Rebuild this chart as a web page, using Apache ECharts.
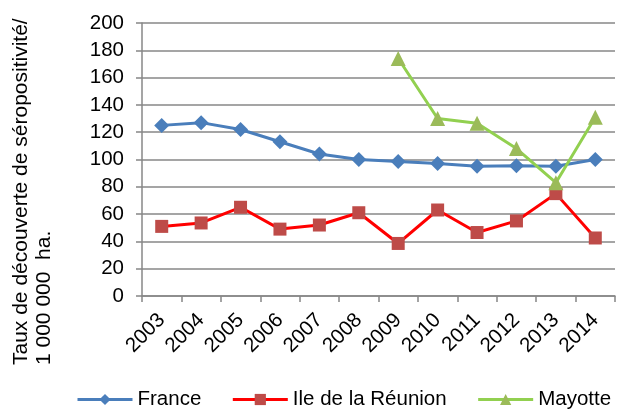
<!DOCTYPE html>
<html>
<head>
<meta charset="utf-8">
<script src="https://cdn.jsdelivr.net/npm/echarts@6/dist/echarts.min.js"></script>
<style>
  html, body { margin: 0; padding: 0; background: #fff; }
  #chart { width: 639px; height: 410px; }
</style>
</head>
<body>
<div id="chart"></div>
<script>
/* ── Data ───────────────────────────────────────────────── */
const years = ['2003','2004','2005','2006','2007','2008','2009','2010','2011','2012','2013','2014'];
const france  = [125, 127, 122, 113, 104, 100, 98.5, 97, 95, 95.5, 95, 100];
const reunion = [51, 53.5, 65, 49, 52, 61, 38.5, 63, 46.5, 55, 75, 42.5];
const mayotte = [null, null, null, null, null, null, 174, 130, 126.5, 108, 83, 131];
const yTicks  = { min: 0, max: 200, interval: 20 };

const FONT = 'Arial, "Liberation Sans", sans-serif';
const GRID_COLOR = '#878787';
const LABEL_SIZE = 20.5;

const chart = echarts.init(document.getElementById('chart'), null, { renderer: 'canvas' });

chart.setOption({
  backgroundColor: '#fff',
  animation: false,
  textStyle: { fontFamily: FONT },
  grid: { left: 142, right: 24, top: 23, bottom: 114 },
  legend: {
    left: 71,
    top: 384,
    itemWidth: 55,
    itemHeight: 14,
    itemGap: 30,
    textStyle: { fontSize: LABEL_SIZE, color: '#000', fontFamily: FONT },
    data: [
      { name: 'France', lineStyle: { width: 3 } },
      { name: 'Ile de la Réunion', lineStyle: { width: 3 } },
      { name: 'Mayotte', lineStyle: { width: 3 } }
    ]
  },
  xAxis: {
    type: 'category',
    data: years,
    boundaryGap: true,
    axisLine: { lineStyle: { color: GRID_COLOR, width: 1.5 } },
    axisTick: { show: true, length: 6, inside: false, lineStyle: { color: GRID_COLOR, width: 1.5 } },
    axisLabel: { rotate: 45, fontSize: LABEL_SIZE, color: '#000', fontFamily: FONT, margin: 21 },
    splitLine: { show: false }
  },
  yAxis: {
    type: 'value',
    min: yTicks.min,
    max: yTicks.max,
    interval: yTicks.interval,
    axisLine: { show: true, lineStyle: { color: GRID_COLOR, width: 1.5 } },
    axisTick: { show: true, length: 6, lineStyle: { color: GRID_COLOR, width: 1.5 } },
    axisLabel: { fontSize: LABEL_SIZE, color: '#000', fontFamily: FONT, margin: 18 },
    splitLine: { show: true, lineStyle: { color: GRID_COLOR, width: 1.5 } }
  },
  // rotated two-line axis title, reads bottom to top
  graphic: [{
    type: 'text',
    x: 10,
    y: 365,
    rotation: Math.PI / 2,
    style: {
      text: 'Taux de découverte de séropositivité/\n1 000 000  ha.',
      font: '21px ' + FONT,
      fill: '#000',
      align: 'left',
      verticalAlign: 'top',
      lineHeight: 23
    }
  }],
  series: [
    {
      name: 'France',
      type: 'line',
      data: france,
      symbol: 'diamond',
      symbolSize: 15,
      lineStyle: { color: '#4A7EBB', width: 3 },
      itemStyle: { color: '#4A7EBB' }
    },
    {
      name: 'Ile de la Réunion',
      type: 'line',
      data: reunion,
      symbol: 'rect',
      symbolSize: 13,
      lineStyle: { color: '#FF0000', width: 3 },
      itemStyle: { color: '#BE4B48' }
    },
    {
      name: 'Mayotte',
      type: 'line',
      data: mayotte,
      symbol: 'triangle',
      symbolSize: 15,
      connectNulls: false,
      lineStyle: { color: '#92D050', width: 3 },
      itemStyle: { color: '#9BBB59' }
    }
  ]
});
</script>
</body>
</html>
